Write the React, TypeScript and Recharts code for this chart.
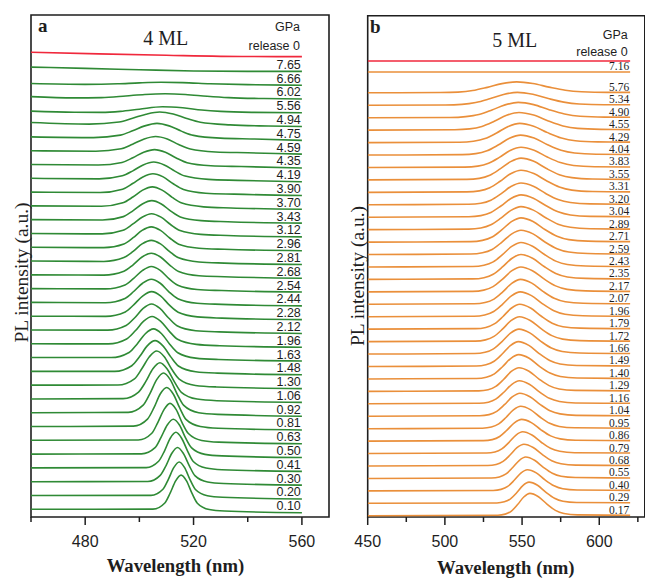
import React from 'react';
import { ComposedChart, Line, Scatter, XAxis, YAxis, ReferenceArea } from 'recharts';

type Pt = [number, number];

// ---------- Panel a : 4 ML ----------
const aLabels = ['0.10','0.20','0.30','0.41','0.50','0.63','0.81','0.92','1.06','1.30','1.48','1.63','1.96','2.12','2.28','2.44','2.54','2.68','2.81','2.96','3.12','3.43','3.70','3.90','4.19','4.35','4.59','4.75','4.94','5.56','6.02','6.66','7.65'];
const aOffsets = [0.31,1.31,2.31,3.31,4.31,5.31,6.31,7.31,8.31,9.31,10.31,11.31,12.31,13.31,14.31,15.31,16.31,17.31,18.31,19.31,20.31,21.31,22.31,23.31,24.31,25.31,26.31,27.31,28.31,29.31,30.31,31.31,32.31];
const aSpectra: Pt[][] = [
  [[460,0.25],[505.0,0.26],[509.4,0.71],[511.4,1.44],[513.4,2.31],[515.4,2.73],[517.4,2.31],[519.4,1.42],[521.4,0.69],[525.8,0.23],[531.4,0.12],[560,0]],
  [[460,0.25],[504.3,0.26],[508.7,0.70],[510.7,1.42],[512.7,2.27],[514.7,2.68],[516.7,2.27],[518.7,1.40],[520.7,0.68],[525.1,0.23],[530.7,0.12],[560,0]],
  [[460,0.25],[503.1,0.26],[507.7,0.71],[509.9,1.44],[512.0,2.31],[514.1,2.73],[516.2,2.31],[518.4,1.42],[520.5,0.69],[525.2,0.23],[531.1,0.12],[560,0]],
  [[460,0.25],[502.5,0.27],[507.1,0.73],[509.3,1.49],[511.4,2.40],[513.5,2.83],[515.6,2.40],[517.8,1.47],[519.9,0.71],[524.6,0.24],[530.5,0.12],[560,0]],
  [[460,0.25],[500.8,0.27],[505.8,0.72],[508.0,1.47],[510.3,2.36],[512.5,2.78],[514.8,2.36],[517.0,1.45],[519.3,0.70],[524.2,0.23],[530.5,0.12],[560,0]],
  [[460,0.25],[499.6,0.27],[504.6,0.76],[506.8,1.54],[509.1,2.48],[511.3,2.93],[513.6,2.48],[515.8,1.52],[518.1,0.74],[523.0,0.24],[529.3,0.12],[560,0]],
  [[460,0.25],[497.8,0.28],[503.0,0.79],[505.4,1.62],[507.7,2.61],[510.1,3.08],[512.5,2.61],[514.9,1.60],[517.2,0.77],[522.5,0.25],[529.1,0.12],[560,0]],
  [[460,0.25],[495.9,0.28],[501.4,0.80],[503.9,1.64],[506.4,2.65],[508.9,3.13],[511.4,2.65],[513.9,1.62],[516.4,0.78],[521.9,0.25],[528.9,0.13],[560,0]],
  [[460,0.25],[494.0,0.27],[499.7,0.75],[502.4,1.52],[505.0,2.44],[507.6,2.88],[510.2,2.44],[512.9,1.50],[515.5,0.73],[521.3,0.24],[528.6,0.12],[560,0]],
  [[460,0.25],[492.1,0.26],[498.2,0.71],[500.9,1.44],[503.7,2.31],[506.4,2.73],[509.2,2.31],[511.9,1.42],[514.7,0.69],[520.7,0.23],[528.4,0.12],[560,0]],
  [[460,0.25],[490.9,0.25],[497.2,0.66],[500.1,1.32],[502.9,2.10],[505.8,2.48],[508.7,2.10],[511.6,1.30],[514.4,0.64],[520.8,0.22],[528.8,0.12],[560,0]],
  [[460,0.25],[489.6,0.25],[496.2,0.62],[499.2,1.24],[502.2,1.98],[505.2,2.33],[508.2,1.98],[511.2,1.22],[514.2,0.60],[520.8,0.21],[529.2,0.11],[560,0]],
  [[460,0.25],[488.5,0.24],[495.3,0.60],[498.5,1.19],[501.6,1.89],[504.7,2.23],[507.8,1.89],[511.0,1.17],[514.1,0.58],[521.0,0.21],[529.7,0.11],[560,0]],
  [[460,0.25],[488.3,0.24],[495.1,0.58],[498.3,1.14],[501.4,1.81],[504.5,2.13],[507.6,1.81],[510.8,1.12],[513.9,0.56],[520.8,0.20],[529.5,0.11],[560,0]],
  [[460,0.25],[487.6,0.24],[494.8,0.56],[498.0,1.09],[501.3,1.73],[504.5,2.03],[507.8,1.73],[511.0,1.07],[514.3,0.54],[521.4,0.20],[530.5,0.11],[560,0]],
  [[460,0.25],[487.5,0.23],[494.7,0.54],[497.9,1.04],[501.2,1.64],[504.4,1.93],[507.7,1.64],[510.9,1.02],[514.2,0.52],[521.3,0.19],[530.4,0.11],[560,0]],
  [[460,0.25],[487.5,0.23],[494.7,0.52],[497.9,1.00],[501.2,1.57],[504.4,1.85],[507.7,1.57],[510.9,0.98],[514.2,0.50],[521.3,0.19],[530.4,0.11],[560,0]],
  [[460,0.25],[486.9,0.23],[494.3,0.51],[497.7,0.98],[501.0,1.54],[504.4,1.81],[507.8,1.54],[511.2,0.96],[514.5,0.49],[522.0,0.18],[531.4,0.11],[560,0]],
  [[460,0.25],[486.9,0.22],[494.3,0.50],[497.7,0.95],[501.0,1.49],[504.4,1.75],[507.8,1.49],[511.2,0.93],[514.5,0.48],[522.0,0.18],[531.4,0.10],[560,0]],
  [[460,0.25],[486.9,0.22],[494.3,0.49],[497.7,0.94],[501.0,1.47],[504.4,1.73],[507.8,1.47],[511.2,0.92],[514.5,0.47],[522.0,0.18],[531.4,0.10],[560,0]],
  [[460,0.25],[486.3,0.22],[494.0,0.48],[497.5,0.92],[501.0,1.43],[504.5,1.68],[508.0,1.43],[511.5,0.90],[515.0,0.46],[522.7,0.18],[532.5,0.10],[560,0]],
  [[460,0.25],[486.4,0.22],[494.1,0.47],[497.6,0.89],[501.1,1.39],[504.6,1.63],[508.1,1.39],[511.6,0.87],[515.1,0.45],[522.8,0.18],[532.6,0.10],[560,0]],
  [[460,0.25],[486.0,0.22],[493.9,0.47],[497.6,0.89],[501.2,1.39],[504.8,1.63],[508.4,1.39],[512.1,0.87],[515.7,0.45],[523.7,0.18],[533.8,0.10],[560,0]],
  [[460,0.25],[485.5,0.22],[493.8,0.46],[497.5,0.87],[501.3,1.35],[505.0,1.58],[508.8,1.35],[512.5,0.85],[516.3,0.44],[524.5,0.17],[535.0,0.10],[560,0]],
  [[460,0.25],[485.2,0.21],[493.7,0.43],[497.6,0.79],[501.4,1.22],[505.3,1.43],[509.2,1.22],[513.1,0.77],[516.9,0.41],[525.5,0.17],[536.3,0.10],[560,0]],
  [[460,0.25],[484.8,0.21],[493.6,0.40],[497.6,0.74],[501.6,1.14],[505.6,1.33],[509.6,1.14],[513.6,0.72],[517.6,0.38],[526.4,0.16],[537.6,0.10],[560,0]],
  [[460,0.25],[483.9,0.21],[493.3,0.39],[497.5,0.72],[501.8,1.10],[506.0,1.28],[510.3,1.10],[514.5,0.70],[518.8,0.37],[528.1,0.16],[540.0,0.10],[560,0]],
  [[460,0.25],[483.1,0.20],[493.0,0.38],[497.5,0.69],[502.0,1.05],[506.5,1.23],[511.0,1.05],[515.5,0.67],[520.0,0.36],[529.9,0.16],[542.5,0.10],[560,0]],
  [[460,0.29],[481.5,0.18],[492.5,0.33],[497.5,0.60],[502.5,0.90],[507.5,1.06],[512.5,0.91],[517.5,0.58],[522.5,0.31],[533.5,0.12],[547.5,0.04],[560,0]],
  [[460,0.12],[476,0.04],[486,0.03],[493,0.10],[500,0.26],[508.5,0.44],[516,0.36],[523,0.20],[530,0.10],[542,0.03],[560,0]],
  [[460,0.17],[476,0.08],[486,0.10],[495,0.22],[502,0.33],[509.5,0.38],[517,0.33],[525,0.20],[533,0.10],[546,0.03],[560,0]],
  [[460,0.12],[480,0.06],[492,0.10],[500,0.17],[508,0.21],[516,0.19],[526,0.11],[540,0.04],[560,0]],
  [[460,0.31],[480,0.22],[500,0.12],[520,0.03],[540,0],[560,0]],
];
const aRelease: Pt[] = [[460,0.32],[485,0.2],[510,0.1],[540,0.01],[560,0]];
const aReleaseOffset = 33.38;
const aTicks = [460, 480, 500, 520, 540, 560];
const aMajorTicks = [480, 520, 560];

// ---------- Panel b : 5 ML ----------
const bLabels = ['0.17','0.29','0.40','0.55','0.68','0.79','0.86','0.95','1.04','1.16','1.29','1.40','1.49','1.66','1.72','1.79','1.96','2.07','2.17','2.35','2.43','2.59','2.71','2.89','3.04','3.20','3.31','3.55','3.83','4.04','4.29','4.55','4.90','5.34','5.76','7.16'];
const bOffsets = [0.1,1.1,2.1,3.1,4.1,5.1,6.1,7.1,8.1,9.1,10.1,11.1,12.1,13.1,14.1,15.1,16.1,17.1,18.1,19.1,20.1,21.1,22.1,23.1,24.1,25.1,26.1,27.1,28.1,29.1,30.1,31.1,32.1,33.1,34.1,35.77];
const bSpectra: Pt[][] = [
  [[450,0],[534.3,0.04],[539.1,0.13],[543.1,0.38],[547.1,0.90],[551.1,1.51],[555.1,1.80],[560.6,1.53],[566.1,0.94],[571.6,0.43],[577.1,0.18],[585.9,0.07],[620,0.04]],
  [[450,0],[533.7,0.03],[538.5,0.12],[542.5,0.36],[546.5,0.85],[550.5,1.43],[554.5,1.70],[560.0,1.45],[565.5,0.88],[571.0,0.41],[576.5,0.17],[585.3,0.07],[620,0.04]],
  [[450,0],[531.3,0.03],[536.4,0.12],[540.7,0.36],[544.9,0.85],[549.2,1.43],[553.4,1.70],[559.2,1.45],[564.9,0.88],[570.7,0.41],[576.4,0.17],[585.6,0.07],[620,0.04]],
  [[450,0],[530.2,0.03],[535.3,0.12],[539.6,0.36],[543.8,0.86],[548.1,1.44],[552.3,1.72],[558.1,1.46],[563.8,0.89],[569.6,0.41],[575.3,0.17],[584.5,0.07],[620,0.04]],
  [[450,0],[527.8,0.04],[533.2,0.12],[537.7,0.37],[542.2,0.88],[546.7,1.47],[551.2,1.75],[557.2,1.49],[563.2,0.91],[569.2,0.42],[575.2,0.18],[584.8,0.07],[620,0.04]],
  [[450,0],[527.0,0.04],[532.4,0.12],[536.9,0.37],[541.4,0.88],[545.9,1.47],[550.4,1.75],[556.4,1.49],[562.4,0.91],[568.4,0.42],[574.4,0.18],[584.0,0.07],[620,0.04]],
  [[450,0],[525.0,0.04],[530.7,0.12],[535.5,0.37],[540.2,0.88],[545.0,1.47],[549.7,1.75],[556.0,1.49],[562.2,0.91],[568.5,0.42],[574.7,0.18],[584.7,0.07],[620,0.04]],
  [[450,0],[524.4,0.04],[530.1,0.13],[534.9,0.38],[539.6,0.90],[544.4,1.51],[549.1,1.80],[555.4,1.53],[561.6,0.94],[567.9,0.43],[574.1,0.18],[584.1,0.07],[620,0.04]],
  [[450,0],[522.6,0.04],[528.6,0.13],[533.6,0.39],[538.6,0.93],[543.6,1.55],[548.6,1.85],[555.1,1.57],[561.6,0.96],[568.1,0.44],[574.6,0.19],[585.0,0.07],[620,0.04]],
  [[450,0],[522.2,0.04],[528.2,0.13],[533.2,0.39],[538.2,0.93],[543.2,1.55],[548.2,1.85],[554.7,1.57],[561.2,0.96],[567.7,0.44],[574.2,0.19],[584.6,0.07],[620,0.04]],
  [[450,0],[522.0,0.04],[528.0,0.13],[533.0,0.40],[538.0,0.95],[543.0,1.60],[548.0,1.90],[554.5,1.62],[561.0,0.99],[567.5,0.46],[574.0,0.19],[584.4,0.08],[620,0.04]],
  [[450,0],[520.5,0.04],[526.8,0.14],[532.1,0.41],[537.3,0.98],[542.6,1.64],[547.8,1.95],[554.6,1.66],[561.3,1.01],[568.1,0.47],[574.8,0.20],[585.6,0.08],[620,0.04]],
  [[450,0],[520.3,0.04],[526.6,0.14],[531.9,0.42],[537.1,1.00],[542.4,1.68],[547.6,2.00],[554.4,1.70],[561.1,1.04],[567.9,0.48],[574.6,0.20],[585.4,0.08],[620,0.04]],
  [[450,0],[519.4,0.04],[526.0,0.14],[531.5,0.42],[537.0,1.00],[542.5,1.68],[548.0,2.00],[555.0,1.70],[562.0,1.04],[569.0,0.48],[576.0,0.20],[587.2,0.08],[620,0.04]],
  [[450,0],[519.7,0.04],[526.3,0.14],[531.8,0.42],[537.3,1.00],[542.8,1.68],[548.3,2.00],[555.3,1.70],[562.3,1.04],[569.3,0.48],[576.3,0.20],[587.5,0.08],[620,0.04]],
  [[450,0],[519.9,0.04],[526.5,0.14],[532.0,0.42],[537.5,1.00],[543.0,1.68],[548.5,2.00],[555.5,1.70],[562.5,1.04],[569.5,0.48],[576.5,0.20],[587.7,0.08],[620,0.04]],
  [[450,0],[518.9,0.04],[525.8,0.14],[531.6,0.42],[537.3,1.00],[543.1,1.68],[548.8,2.00],[556.1,1.70],[563.3,1.04],[570.6,0.48],[577.8,0.20],[589.4,0.08],[620,0.04]],
  [[450,0],[519.1,0.04],[526.0,0.14],[531.8,0.42],[537.5,1.00],[543.3,1.68],[549.0,2.00],[556.3,1.70],[563.5,1.04],[570.8,0.48],[578.0,0.20],[589.6,0.08],[620,0.04]],
  [[450,0],[518.0,0.04],[525.2,0.14],[531.2,0.42],[537.2,1.00],[543.2,1.68],[549.2,2.00],[556.7,1.70],[564.2,1.04],[571.7,0.48],[579.2,0.20],[591.2,0.08],[620,0.04]],
  [[450,0],[518.1,0.04],[525.3,0.14],[531.3,0.42],[537.3,1.00],[543.3,1.68],[549.3,2.00],[556.8,1.70],[564.3,1.04],[571.8,0.48],[579.3,0.20],[591.3,0.08],[620,0.04]],
  [[450,0],[518.1,0.04],[525.3,0.14],[531.3,0.41],[537.3,0.99],[543.3,1.65],[549.3,1.97],[556.8,1.67],[564.3,1.02],[571.8,0.47],[579.3,0.20],[591.3,0.08],[620,0.04]],
  [[450,0],[516.8,0.04],[524.3,0.14],[530.6,0.41],[536.8,0.98],[543.1,1.64],[549.3,1.95],[557.1,1.66],[564.8,1.01],[572.6,0.47],[580.3,0.20],[592.7,0.08],[620,0.04]],
  [[450,0],[516.8,0.04],[524.3,0.14],[530.6,0.41],[536.8,0.98],[543.1,1.64],[549.3,1.95],[557.1,1.66],[564.8,1.01],[572.6,0.47],[580.3,0.20],[592.7,0.08],[620,0.04]],
  [[450,0],[515.5,0.04],[523.3,0.13],[529.8,0.39],[536.3,0.93],[542.8,1.55],[549.3,1.85],[557.3,1.57],[565.3,0.96],[573.3,0.44],[581.3,0.19],[594.1,0.07],[620,0.04]],
  [[450,0],[515.5,0.04],[523.3,0.13],[529.8,0.38],[536.3,0.90],[542.8,1.51],[549.3,1.80],[557.3,1.53],[565.3,0.94],[573.3,0.43],[581.3,0.18],[594.1,0.07],[620,0.04]],
  [[450,0],[515.5,0.04],[523.3,0.12],[529.8,0.37],[536.3,0.88],[542.8,1.47],[549.3,1.75],[557.3,1.49],[565.3,0.91],[573.3,0.42],[581.3,0.18],[594.1,0.07],[620,0.04]],
  [[450,0],[514.2,0.04],[522.3,0.12],[529.1,0.37],[535.8,0.89],[542.6,1.50],[549.3,1.78],[557.6,1.51],[565.8,0.93],[574.1,0.43],[582.3,0.18],[595.5,0.07],[620,0.04]],
  [[450,0],[514.2,0.04],[522.3,0.12],[529.1,0.37],[535.8,0.88],[542.6,1.47],[549.3,1.75],[557.6,1.49],[565.8,0.91],[574.1,0.42],[582.3,0.18],[595.5,0.07],[620,0.04]],
  [[450,0],[512.9,0.03],[521.3,0.11],[528.3,0.34],[535.3,0.81],[542.3,1.36],[549.3,1.62],[557.8,1.38],[566.3,0.84],[574.8,0.39],[583.3,0.16],[596.9,0.06],[620,0.04]],
  [[450,0],[511.3,0.03],[520.0,0.11],[527.3,0.34],[534.5,0.80],[541.8,1.34],[549.0,1.60],[557.8,1.36],[566.5,0.83],[575.3,0.38],[584.0,0.16],[598.0,0.06],[620,0.04]],
  [[450,0],[509.5,0.03],[518.5,0.11],[526.0,0.32],[533.5,0.77],[541.0,1.29],[548.5,1.54],[557.5,1.31],[566.5,0.80],[575.5,0.37],[584.5,0.15],[598.9,0.06],[620,0.04]],
  [[450,0],[506.4,0.03],[516.0,0.10],[524.0,0.30],[532.0,0.71],[540.0,1.19],[548.0,1.42],[557.5,1.21],[567.0,0.74],[576.5,0.34],[586.0,0.14],[601.2,0.06],[620,0.04]],
  [[450,0],[503.3,0.02],[513.5,0.09],[522.0,0.26],[530.5,0.62],[539.0,1.03],[547.5,1.23],[557.5,1.05],[567.5,0.64],[577.5,0.30],[587.5,0.12],[603.5,0.05],[620,0.04]],
  [[450,0],[500.2,0.02],[511.0,0.07],[520.0,0.22],[529.0,0.52],[538.0,0.87],[547.0,1.04],[557.0,0.88],[567.0,0.54],[577.0,0.25],[587.0,0.10],[603.0,0.04],[620,0.04]],
  [[450,0],[497.1,0.02],[508.5,0.06],[518.0,0.18],[527.5,0.44],[537.0,0.74],[546.5,0.88],[557.0,0.75],[567.5,0.46],[578.0,0.21],[588.5,0.09],[605.3,0.04],[620,0.04]],
  [[450,0],[620,0]],
];
const bRelease: Pt[] = [[450,0],[620,0]];
const bReleaseOffset = 36.66;
const bTicks = [450, 475, 500, 525, 550, 575, 600, 625];
const bMajorTicks = [450, 500, 550, 600];

const SANS = "'Liberation Sans', Arial, sans-serif";
const SERIF = "'Liberation Serif', 'Times New Roman', serif";
const GREEN = '#2f8a35';
const ORANGE = '#ea8f3a';
const RED = '#f0283c';
const INK = '#1e1e1e';

function makeTick(major: number[], labelDy: number) {
  return (props: any) => {
    const { x, y, payload } = props;
    const isMajor = major.includes(payload.value);
    return (
      <g>
        <line x1={x} x2={x} y1={y} y2={y + (isMajor ? 8 : 5)} stroke={INK} strokeWidth={1.5} />
        {isMajor && (
          <text x={x} y={y + labelDy} textAnchor="middle" fontFamily={SANS} fontSize={16} fill={INK}>
            {payload.value}
          </text>
        )}
      </g>
    );
  };
}

type PanelProps = {
  left: number; width: number; margin: { top: number; right: number; bottom: number; left: number };
  xDomain: [number, number]; yMax: number;
  spectra: Pt[][]; offsets: number[]; labels: string[];
  release: Pt[]; releaseOffset: number; color: string;
  ticks: number[]; major: number[]; labelDy: number;
  labelX: number; labelEnd: number; labelFont: string; labelSize: number; labelLift: number;
};

function Panel(p: PanelProps) {
  const labelData = p.labels.map((t, i) => ({ x: p.labelX, y: p.offsets[i] + p.labelEnd, t }));
  return (
    <div style={{ position: 'absolute', left: p.left, top: 0 }}>
      <ComposedChart width={p.width} height={578} margin={p.margin}>
        <XAxis
          type="number" dataKey="x" domain={p.xDomain} ticks={p.ticks} interval={0}
          allowDataOverflow tick={makeTick(p.major, p.labelDy)} tickLine={false} axisLine={false}
          height={61} tickSize={0} tickMargin={0}
        />
        <YAxis type="number" dataKey="y" domain={[0, p.yMax]} hide width={0} allowDataOverflow />
        <ReferenceArea x1={p.xDomain[0]} x2={p.xDomain[1]} y1={0} y2={p.yMax} fill="none" stroke={INK} strokeWidth={1.6} ifOverflow="visible" />
        {p.spectra.map((s, i) => (
          <Line
            key={'s' + i}
            data={s.map(([x, v]) => ({ x, y: v + p.offsets[i] }))}
            dataKey="y" type="monotone" stroke={p.color} strokeWidth={1.6}
            dot={false} activeDot={false} isAnimationActive={false}
          />
        ))}
        <Line
          data={p.release.map(([x, v]) => ({ x, y: v + p.releaseOffset }))}
          dataKey="y" type="monotone" stroke={RED} strokeWidth={1.6}
          dot={false} activeDot={false} isAnimationActive={false}
        />
        <Scatter
          data={labelData} dataKey="y" isAnimationActive={false}
          shape={(sp: any) => (
            <text x={sp.cx} y={sp.cy - p.labelLift} textAnchor="end" fontFamily={p.labelFont} fontSize={p.labelSize} fill={INK}>
              {sp.payload.t}
            </text>
          )}
        />
      </ComposedChart>
    </div>
  );
}

export default function App() {
  return (
    <div style={{ position: 'absolute', left: 0, top: 0, width: 645, height: 578, overflow: 'hidden', background: '#fff' }}>
      <Panel
        left={0} width={340} margin={{ top: 15, right: 11, bottom: 0, left: 31 }}
        xDomain={[460, 570]} yMax={36.4}
        spectra={aSpectra} offsets={aOffsets} labels={aLabels}
        release={aRelease} releaseOffset={aReleaseOffset} color={GREEN}
        ticks={aTicks} major={aMajorTicks} labelDy={30.3}
        labelX={559.6} labelEnd={0} labelFont={SANS} labelSize={12.5} labelLift={2.5}
      />
      <Panel
        left={340} width={310} margin={{ top: 15.7, right: 5.2, bottom: 0, left: 27.7 }}
        xDomain={[450, 629.5]} yMax={40.3}
        spectra={bSpectra} offsets={bOffsets} labels={bLabels}
        release={bRelease} releaseOffset={bReleaseOffset} color={ORANGE}
        ticks={bTicks} major={bMajorTicks} labelDy={29.7}
        labelX={619.4} labelEnd={0.04} labelFont={SERIF} labelSize={11.5} labelLift={1.5}
      />
      <svg width={645} height={578} style={{ position: 'absolute', left: 0, top: 0, pointerEvents: 'none' }}>
        <text x={38} y={31.7} fontFamily={SERIF} fontWeight="bold" fontSize={19} fill={INK}>a</text>
        <text x={165.7} y={44.9} textAnchor="middle" fontFamily={SERIF} fontSize={20} fill={INK}>4 ML</text>
        <text x={300} y={31.2} textAnchor="end" fontFamily={SANS} fontSize={12.5} fill={INK}>GPa</text>
        <text x={300} y={49.5} textAnchor="end" fontFamily={SANS} fontSize={12.5} fill={INK}>release 0</text>
        <text x={175.5} y={571.7} textAnchor="middle" fontFamily={SERIF} fontWeight="bold" fontSize={18.7} fill={INK}>Wavelength (nm)</text>
        <text transform="translate(28,272.5) rotate(-90)" textAnchor="middle" fontFamily={SERIF} fontSize={19.5} fill={INK}>PL intensity (a.u.)</text>

        <text x={370} y={33.3} fontFamily={SERIF} fontWeight="bold" fontSize={19} fill={INK}>b</text>
        <text x={514.7} y={46.6} textAnchor="middle" fontFamily={SERIF} fontSize={20} fill={INK}>5 ML</text>
        <text x={627.7} y={38.8} textAnchor="end" fontFamily={SANS} fontSize={12.5} fill={INK}>GPa</text>
        <text x={627.7} y={56.2} textAnchor="end" fontFamily={SANS} fontSize={12.5} fill={INK}>release 0</text>
        <text x={505.8} y={574} textAnchor="middle" fontFamily={SERIF} fontWeight="bold" fontSize={18.7} fill={INK}>Wavelength (nm)</text>
        <text transform="translate(363.5,276) rotate(-90)" textAnchor="middle" fontFamily={SERIF} fontSize={19.5} fill={INK}>PL intensity (a.u.)</text>
      </svg>
    </div>
  );
}
